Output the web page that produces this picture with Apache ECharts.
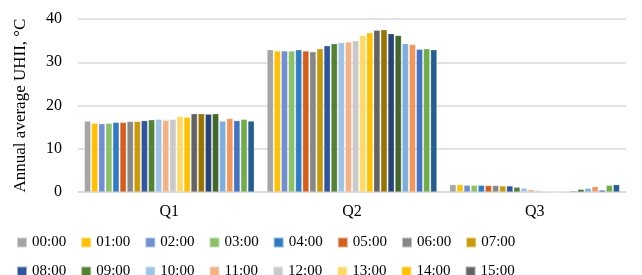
<!DOCTYPE html>
<html>
<head>
<meta charset="utf-8">
<script src="https://cdn.jsdelivr.net/npm/echarts@6/dist/echarts.min.js"></script>
<style>
html, body { margin: 0; padding: 0; background: #fff; }
#chart { width: 642px; height: 275px; }
</style>
</head>
<body>
<div id="chart"></div>
<script>
// 季度
var quarters = ['Q1', 'Q2', 'Q3'];
var yTicks = [0, 10, 20, 30, 40];

var hours = ['00:00', '01:00', '02:00', '03:00', '04:00', '05:00', '06:00', '07:00',
             '08:00', '09:00', '10:00', '11:00', '12:00', '13:00', '14:00', '15:00',
             '16:00', '17:00', '18:00', '19:00', '20:00', '21:00', '22:00', '23:00'];

// 每个小时一组: Q1, Q2, Q3
var q1Vals = [16.4, 15.9, 15.8, 15.9, 16.1, 16.1, 16.3, 16.3, 16.5, 16.7, 16.8, 16.6,
              16.8, 17.5, 17.3, 18.1, 18.1, 18.0, 18.1, 16.4, 17.0, 16.5, 16.8, 16.4];
var q2Vals = [32.9, 32.6, 32.6, 32.6, 32.9, 32.6, 32.4, 33.1, 33.8, 34.3, 34.5, 34.7,
              35.0, 36.2, 36.8, 37.4, 37.5, 36.6, 36.2, 34.3, 34.1, 33.0, 33.1, 32.9];
var q3Vals = [1.7, 1.7, 1.55, 1.55, 1.55, 1.5, 1.5, 1.4, 1.4, 1.1, 0.9, 0.55,
              0.35, 0.05, 0.02, 0.02, 0.05, 0.2, 0.6, 0.85, 1.25, 0.45, 1.55, 1.7];

var colors = ['#a5a5a5', '#ffc000', '#6f8fd0', '#8cc168', '#2e7cc4', '#d55f1a',
              '#878787', '#c99a06', '#2f55a0', '#548235', '#9dc3e6', '#f4b183',
              '#c9c9c9', '#ffd966', '#ffc000', '#636363', '#997300', '#264478',
              '#43682b', '#7cafdd', '#f1975a', '#4472c4', '#70ad47', '#255e91'];

var font = 'Liberation Serif';

var series = [];
for (var i = 0; i < hours.length; i++) {
    series.push({
        name: hours[i],
        type: 'bar',
        data: [q1Vals[i], q2Vals[i], q3Vals[i]],
        barGap: '12%',
        barCategoryGap: '7%',
        itemStyle: { borderColor: 'rgba(255,255,255,0.5)', borderWidth: 0.5 }
    });
}

var app = echarts.init(document.getElementById('chart'));
var option = {
    animation: false,
    color: colors,
    grid: { left: 78, right: 16, top: 19, bottom: 83 },
    legend: {
        data: hours,
        left: 11,
        top: 230,
        width: 510,
        itemWidth: 10,
        itemHeight: 10,
        itemGap: 14,
        icon: 'rect',
        textStyle: { fontFamily: font, fontSize: 15, color: '#000', lineHeight: 11 }
    },
    xAxis: {
        type: 'category',
        data: quarters,
        axisLine: { lineStyle: { color: '#d9d9d9', width: 1.5 } },
        axisTick: { show: false },
        axisLabel: { fontFamily: font, fontSize: 16, color: '#000', margin: 12 }
    },
    yAxis: {
        type: 'value',
        min: yTicks[0],
        max: yTicks[yTicks.length - 1],
        interval: 10,
        name: 'Annual average UHII, °C',
        nameLocation: 'middle',
        nameGap: 49,
        nameTextStyle: { fontFamily: font, fontSize: 17, color: '#000' },
        axisLine: { show: false },
        axisTick: { show: false },
        axisLabel: { fontFamily: font, fontSize: 16, color: '#000', margin: 16 },
        splitLine: { lineStyle: { color: '#d9d9d9', width: 1.5 } }
    },
    series: series
};
app.setOption(option);
</script>
</body>
</html>
